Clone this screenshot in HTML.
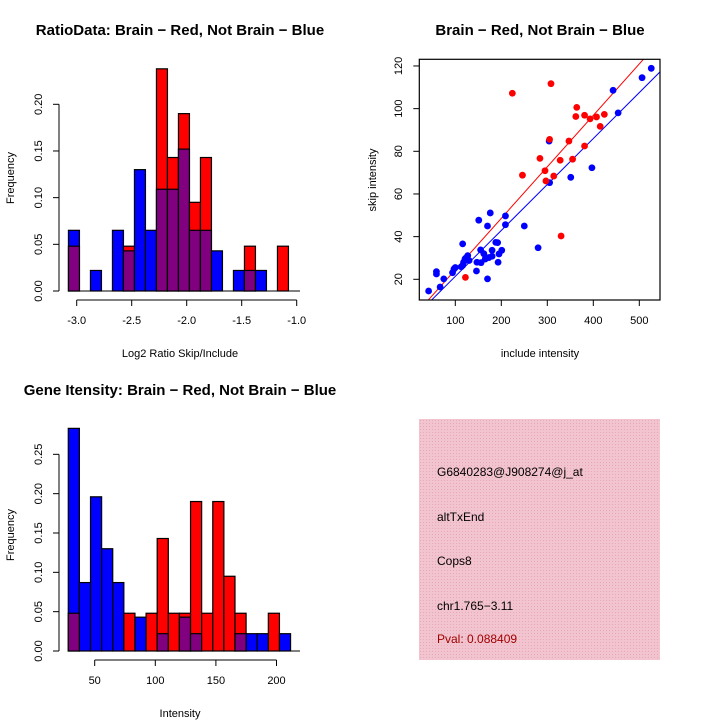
<!DOCTYPE html>
<html><head><meta charset="utf-8"><style>
html,body{margin:0;padding:0;background:#fff}
svg{display:block;font-family:"Liberation Sans",sans-serif}
</style></head><body>
<svg id="c" width="720" height="720" viewBox="0 0 720 720">
<defs>
<pattern id="hatch" width="3" height="3" patternUnits="userSpaceOnUse">
<rect width="3" height="3" fill="#f2c4cf"/><rect width="1" height="1" fill="#e8a8b8"/>
</pattern>
</defs>
<g id="p1"></g>
<g id="p2"></g>
<g id="p3"></g>
<g>
<rect x="419" y="419" width="241" height="241" fill="url(#hatch)"/>
<g font-size="12" fill="#000">
<text x="437" y="476">G6840283@J908274@j_at</text>
<text x="437" y="521">altTxEnd</text>
<text x="437" y="565">Cops8</text>
<text x="437" y="610">chr1.765−3.11</text>
<text x="437" y="643" fill="#a00000">Pval: 0.088409</text>
</g>
</g>
</svg>
<script>
// ---- Ratio histogram data ----
const ratioStart = -3.075, ratioBinW = 0.1;
const ratioBlue = [0.065,0,0.022,0,0.065,0.043,0.13,0.065,0.109,0.109,0.152,0.065,0.065,0.043,0,0.022,0.022,0.022,0,0];
const ratioRed  = [0.048,0,0,0,0,0.048,0,0,0.238,0.143,0.19,0.095,0.143,0,0,0,0.048,0,0,0.048];
const ratioXTicks = [-3.0,-2.5,-2.0,-1.5,-1.0];
const ratioXLabels = ["-3.0","-2.5","-2.0","-1.5","-1.0"];
const ratioYTicks = [0,0.05,0.10,0.15,0.20];
const ratioYLabels = ["0.00","0.05","0.10","0.15","0.20"];
// ---- Gene intensity histogram data ----
const intStart = 28.2, intBinW = 9.17;
const intBlue = [0.283,0.087,0.196,0.13,0.087,0,0.043,0,0.022,0,0.043,0.022,0,0,0,0.022,0.022,0.022,0,0.022];
const intRed  = [0.048,0,0,0,0,0.048,0,0.048,0.143,0.048,0.048,0.19,0.048,0.19,0.095,0.048,0,0,0.048,0];
const intXTicks = [50,100,150,200];
const intYTicks = [0,0.05,0.10,0.15,0.20,0.25];
const intYLabels = ["0.00","0.05","0.10","0.15","0.20","0.25"];
// ---- Scatter data ----
const redX = [224,308,364,362,381,393,407,424,415,381,305,347,284,328,355,295,314,246,297,330,122];
const redY = [107.2,111.7,100.6,96.3,96.9,95.2,96.1,97.3,91.7,82.5,85.6,84.8,76.7,75.8,76.3,70.9,68.4,68.8,66.1,40.3,20.9];
const blueX = [526,506,443,454,304,397,351,305,176,209,151,170,209,250,280,116,188,192,201,180,155,162,195,173,180,127,121,118,130,156,147,193,113,97,94,146,59,59,75,170,67,42,123,116,100,165];
const blueY = [118.9,114.5,108.6,98,84.8,72.3,67.8,65.3,51.1,49.7,47.7,45,45.6,45,34.8,36.6,37.3,37.2,33.6,33.6,33.8,32,31.9,30.2,30.8,31.1,29.5,28,28.8,27.8,28,28,25.9,24.8,23.1,23.9,23.6,22.5,20.2,20.2,16.4,14.5,30.0,26.5,25.5,29.5];
const redFit = [0.33,0.2413];
const blueFit = [-0.17,0.2154];
const scXTicks = [100,200,300,400,500];
const scYTicks = [20,40,60,80,100,120];

const NS="http://www.w3.org/2000/svg";
function mk(parent,tag,attrs,text){const e=document.createElementNS(NS,tag);for(const k in attrs)e.setAttribute(k,attrs[k]);if(text!==undefined)e.textContent=text;parent.appendChild(e);return e;}

function hist(g,o){
  const xs=v=>o.x0+(v-o.v0)*o.kx, ys=v=>o.base-v*o.ky;
  const n=o.blue.length;
  for(let i=0;i<n;i++){
    const b=o.blue[i], r=o.red[i]; if(!b&&!r) continue;
    const l=xs(o.start+i*o.bw), w=xs(o.start+(i+1)*o.bw)-l;
    const mx=Math.max(b,r), mn=Math.min(b,r);
    const bar=mk(g,'rect',{x:l,y:ys(mx),width:w,height:ys(0)-ys(mx),fill:b>=r?'#0000ff':'#ff0000',stroke:'#000','stroke-width':1.2});
    
    
    if(mn>0){
      const p=mk(g,'rect',{x:l,y:ys(mn),width:w,height:ys(0)-ys(mn),fill:'#800080',stroke:'#000','stroke-width':1.2});
      
      
    }
  }
  const bl=mk(g,'line',{x1:68,x2:300,y1:o.base,y2:o.base,stroke:'#000','stroke-width':1});
  
  
  const xa=mk(g,'g',{'font-size':11});
  
  
  mk(xa,'line',{x1:xs(o.xt[0]),x2:xs(o.xt[o.xt.length-1]),y1:o.xAxisY,y2:o.xAxisY,stroke:'#000'});
  o.xt.forEach((t,i)=>{mk(xa,'line',{x1:xs(t),x2:xs(t),y1:o.xAxisY,y2:o.xAxisY+6,stroke:'#000'});
    const tl=mk(xa,'text',{x:xs(t),y:o.xAxisY+24,'text-anchor':'middle'},o.xl[i]);
    
    });
  const ya=mk(g,'g',{'font-size':11});
  
  
  mk(ya,'line',{x1:59,x2:59,y1:ys(o.yt[0]),y2:ys(o.yt[o.yt.length-1]),stroke:'#000'});
  o.yt.forEach((t,i)=>{mk(ya,'line',{x1:53,x2:59,y1:ys(t),y2:ys(t),stroke:'#000'});
    const tl=mk(ya,'text',{x:0,y:0,'text-anchor':'middle',transform:`translate(42,${ys(t)}) rotate(-90)`},o.yl[i]);
    
    });
  const t=mk(g,'text',{x:180,y:o.titleY,'text-anchor':'middle','font-size':15,'font-weight':'bold'},o.title);
  
  
  const xt=mk(g,'text',{x:180,y:o.xAxisY+57,'text-anchor':'middle','font-size':11},o.xlab);
  
  
  const yt=mk(g,'text',{x:0,y:0,'text-anchor':'middle','font-size':11,transform:`translate(14,${o.ylabY}) rotate(-90)`},'Frequency');
  
  
}

hist(document.getElementById('p1'),{x0:76.7,v0:-3.0,kx:110,base:291,ky:933.5,start:ratioStart,bw:ratioBinW,blue:ratioBlue,red:ratioRed,
  xt:ratioXTicks,xl:ratioXLabels,yt:ratioYTicks,yl:ratioYLabels,xAxisY:300,title:'RatioData: Brain − Red, Not Brain − Blue',titleY:35,xlab:'Log2 Ratio Skip/Include',ylabY:178});
hist(document.getElementById('p3'),{x0:94.7,v0:50,kx:1.212,base:651,ky:786.7,start:intStart,bw:intBinW,blue:intBlue,red:intRed,
  xt:intXTicks,xl:intXTicks.map(String),yt:intYTicks,yl:intYLabels,xAxisY:660,title:'Gene Itensity: Brain − Red, Not Brain − Blue',titleY:395,xlab:'Intensity',ylabY:535});

(function(){
  const g=document.getElementById('p2');
  const L=419.3,R=660,T=59.3,B=300;
  const xs=v=>455.3+(v-100)*0.46, ys=v=>279.3-(v-20)*2.1333;
  const clip=mk(g,'clipPath',{id:'scClip'});mk(clip,'rect',{x:L,y:T,width:R-L,height:B-T});
  const pts=mk(g,'g',{'clip-path':'url(#scClip)'});
  [[blueFit,'#0000ff'],[redFit,'#ff0000']].forEach(([f,c])=>{
    const ln=mk(pts,'line',{x1:xs(0),y1:ys(f[0]),x2:xs(600),y2:ys(f[0]+f[1]*600),stroke:c,'stroke-width':1});
    
    
  });
  blueX.forEach((x,i)=>{const p=mk(pts,'circle',{cx:xs(x),cy:ys(blueY[i]),r:3.4,fill:'#0000ff'});
    
    });
  redX.forEach((x,i)=>{const p=mk(pts,'circle',{cx:xs(x),cy:ys(redY[i]),r:3.4,fill:'#ff0000'});
    
    });
  const box=mk(g,'rect',{x:L,y:T,width:R-L,height:B-T,fill:'none',stroke:'#000','stroke-width':1.2});
  
  
  scXTicks.forEach(t=>{mk(g,'line',{x1:xs(t),x2:xs(t),y1:B,y2:B+6,stroke:'#000'});
    const tl=mk(g,'text',{x:xs(t),y:B+24,'text-anchor':'middle','font-size':11},String(t));
    
    });
  scYTicks.forEach(t=>{mk(g,'line',{x1:L-6,x2:L,y1:ys(t),y2:ys(t),stroke:'#000'});
    const tl=mk(g,'text',{x:0,y:0,'text-anchor':'middle','font-size':11,transform:`translate(402,${ys(t)}) rotate(-90)`},String(t));
    
    });
  const t=mk(g,'text',{x:540,y:35,'text-anchor':'middle','font-size':15,'font-weight':'bold'},'Brain − Red, Not Brain − Blue');
  
  
  const xt=mk(g,'text',{x:540,y:357,'text-anchor':'middle','font-size':11},'include intensity');
  
  
  const yt=mk(g,'text',{x:0,y:0,'text-anchor':'middle','font-size':11,transform:'translate(376,180) rotate(-90)'},'skip intensity');
  
  
})();
</script>
</body></html>
